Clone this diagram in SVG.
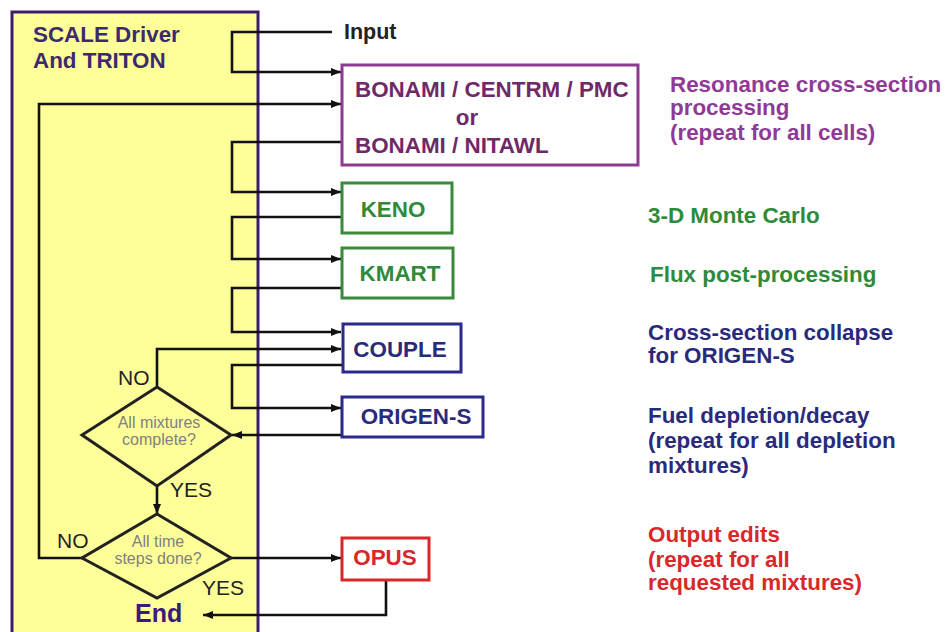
<svg xmlns="http://www.w3.org/2000/svg" width="945" height="632" viewBox="0 0 945 632">
<style>
text{font-family:"Liberation Sans",Arial,sans-serif}
.b{font-weight:bold;font-size:22.4px}
.c{text-anchor:middle}
.pur{fill:#6e2a68}
.lpur{fill:#8e3a96}
.grn{fill:#2f8a3a}
.nav{fill:#2a2a7c}
.red{fill:#d8282a}
.box{fill:#fff;stroke-width:3}
.ln{fill:none;stroke:#111;stroke-width:2.6}
.lbl{font-size:21px;fill:#222}
.dt{font-size:16px;fill:#808080;text-anchor:middle}
.dm{fill:none;stroke:#222;stroke-width:3}
</style>
<defs>
<marker id="ah" markerUnits="userSpaceOnUse" markerWidth="10" markerHeight="8" refX="10" refY="4" orient="auto">
<path d="M0,0 L10,4 L0,8 z" fill="#111"/>
</marker>
</defs>
<rect width="945" height="632" fill="#fff"/>
<g id="driver">
<rect x="12" y="12" width="246" height="630" fill="#ffff99" stroke="#3b1f6e" stroke-width="3"/>
<text class="b" x="33" y="42" fill="#3b2a6e">SCALE Driver</text>
<text class="b" x="33" y="68" fill="#3b2a6e">And TRITON</text>
</g>
<g id="connectors">
<path class="ln" d="M332,32 H232 V72 H341" marker-end="url(#ah)"/>
<path class="ln" d="M82,558 H39 V104 H341" marker-end="url(#ah)"/>
<path class="ln" d="M342,142 H232 V192 H341" marker-end="url(#ah)"/>
<path class="ln" d="M341,217 H232 V259 H341" marker-end="url(#ah)"/>
<path class="ln" d="M341,288 H232 V332 H341" marker-end="url(#ah)"/>
<path class="ln" d="M157,387 V349 H341" marker-end="url(#ah)"/>
<path class="ln" d="M342,365 H232 V408 H341" marker-end="url(#ah)"/>
<path class="ln" d="M342,435 H232" marker-end="url(#ah)"/>
<path class="ln" d="M157,486 V514" marker-end="url(#ah)"/>
<path class="ln" d="M231,558 H341" marker-end="url(#ah)"/>
<path class="ln" d="M386,580 V615 H203" marker-end="url(#ah)"/>
</g>
<g id="input">
<text class="b" x="344" y="39" fill="#222" style="font-size:21.5px">Input</text>
</g>
<g id="bonami">
<rect class="box" x="342" y="65" width="296" height="100" stroke="#8b3c8e"/>
<text class="b pur" x="355" y="97">BONAMI / CENTRM / PMC</text>
<text class="b c pur" x="467" y="125">or</text>
<text class="b pur" x="355" y="153">BONAMI / NITAWL</text>
<text class="b lpur" x="670" y="92">Resonance cross-section</text>
<text class="b lpur" x="670" y="115">processing</text>
<text class="b lpur" x="670" y="140">(repeat for all cells)</text>
</g>
<g id="keno">
<rect class="box" x="342" y="183" width="110" height="50" stroke="#3a8a3a"/>
<text class="b c grn" x="393" y="217">KENO</text>
<text class="b grn" x="648" y="223">3-D Monte Carlo</text>
</g>
<g id="kmart">
<rect class="box" x="342" y="248" width="111" height="50" stroke="#3a8a3a"/>
<text class="b c grn" x="400" y="281">KMART</text>
<text class="b grn" x="650" y="282">Flux post-processing</text>
</g>
<g id="couple">
<rect class="box" x="343" y="324" width="118" height="48" stroke="#2b2b8a"/>
<text class="b c nav" x="400" y="357">COUPLE</text>
<text class="b nav" x="648" y="340">Cross-section collapse</text>
<text class="b nav" x="648" y="363">for ORIGEN-S</text>
</g>
<g id="origen">
<rect class="box" x="342" y="397" width="141" height="40" stroke="#2b2b8a"/>
<text class="b c nav" x="416" y="424">ORIGEN-S</text>
<text class="b nav" x="648" y="423">Fuel depletion/decay</text>
<text class="b nav" x="648" y="448">(repeat for all depletion</text>
<text class="b nav" x="648" y="473">mixtures)</text>
</g>
<g id="mixtures">
<polygon class="dm" points="157,387 231,435 157,486 82,435"/>
<text class="dt" x="159" y="428">All mixtures</text>
<text class="dt" x="159" y="445">complete?</text>
<text class="lbl" x="118" y="385">NO</text>
<text class="lbl" x="170" y="497">YES</text>
</g>
<g id="timesteps">
<polygon class="dm" points="157,514 231,558 157,598 82,558"/>
<text class="dt" x="158" y="547">All time</text>
<text class="dt" x="158" y="564">steps done?</text>
<text class="lbl" x="57" y="548">NO</text>
<text class="lbl" x="202" y="595">YES</text>
</g>
<g id="opus">
<rect class="box" x="342" y="538" width="87" height="42" stroke="#d8282a"/>
<text class="b c red" x="385" y="565">OPUS</text>
<text class="b red" x="648" y="542">Output edits</text>
<text class="b red" x="648" y="567">(repeat for all</text>
<text class="b red" x="648" y="590">requested mixtures)</text>
</g>
<g id="end">
<text x="135" y="622" style="font-weight:bold;font-size:25px" fill="#3a1a7a">End</text>
</g>
</svg>
